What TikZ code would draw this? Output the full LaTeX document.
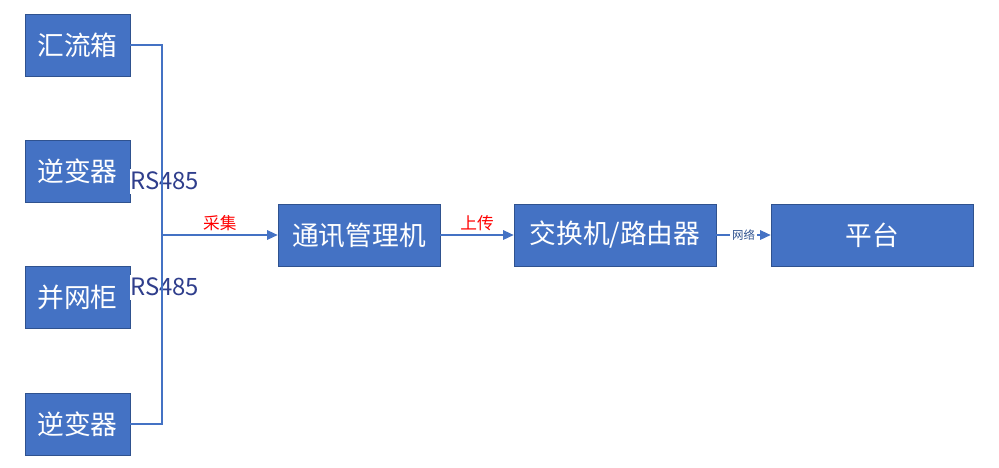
\documentclass[tikz,border=0pt]{standalone}
\usepackage{fontspec}
\setmainfont{Noto Sans CJK SC}
\usepackage{tikz}
\usetikzlibrary{calc,arrows.meta}
\definecolor{boxblue}{RGB}{68,114,196}
\definecolor{boxedge}{RGB}{47,82,143}
\definecolor{rsblue}{RGB}{47,62,140}
\begin{document}
\begin{tikzpicture}[
    devbox/.style={draw=boxedge,line width=0.4pt,fill=boxblue,text=white,
      minimum width=2.1cm,minimum height=1.24cm,inner sep=0pt,
      font=\fontsize{15.2}{18}\selectfont},
    wire/.style={draw=boxblue,line width=0.6pt},
    arr/.style={wire,-{Triangle[length=6pt,width=5.5pt]}},
    rslabel/.style={fill=white,text=rsblue,inner sep=0pt,minimum height=0.5cm,
      anchor=west,font=\fontsize{13.6}{16}\selectfont},
    redlabel/.style={text=red,font=\fontsize{9.5}{11}\selectfont,inner sep=2pt}]
                      \useasboundingbox (0,0) rectangle (19.98,-9.34);
                      \node[devbox](hlx)at(1.55,-0.9){汇流箱};
                      \node[devbox](nbq1)at(1.55,-3.42){逆变器};
                      \node[devbox](bwg)at(1.55,-5.95){并网柜};
                      \node[devbox](nbq2)at(1.55,-8.48){逆变器};
                      \node[devbox,minimum width=3.24cm](txj)at(7.18,-4.7){通讯管理机};
                      \node[devbox,minimum width=4.04cm](jhj)at(12.3,-4.7){交换机/路由器};
                      \node[devbox,minimum width=4.04cm](pt)at(17.44,-4.7){平台};
                      \coordinate(bus)at(3.24,-4.7);
                      \draw[wire](nbq1.east)--(bus|-nbq1.east);
                      \draw[wire](bwg.east)--(bus|-bwg.east);
                      \node[rslabel](rs1)at(2.6,-3.62){RS485};
                      \node[rslabel](rs2)at(2.6,-5.74){RS485};
                      \draw[wire](hlx.east)--(bus|-hlx.east)--(bus|-nbq2.east)--(nbq2.east);
                      \draw[arr](bus)--(txj.west) node[midway,above,redlabel]{采集};
                      \draw[arr](txj.east)--(jhj.west) node[midway,above,redlabel]{上传};
                      \draw[arr](jhj.east)--(pt.west) node[midway,fill=white,inner sep=1pt,text=boxedge,font=\fontsize{6.5}{7}\selectfont]{网络};
                  \end{tikzpicture}
\end{document}
